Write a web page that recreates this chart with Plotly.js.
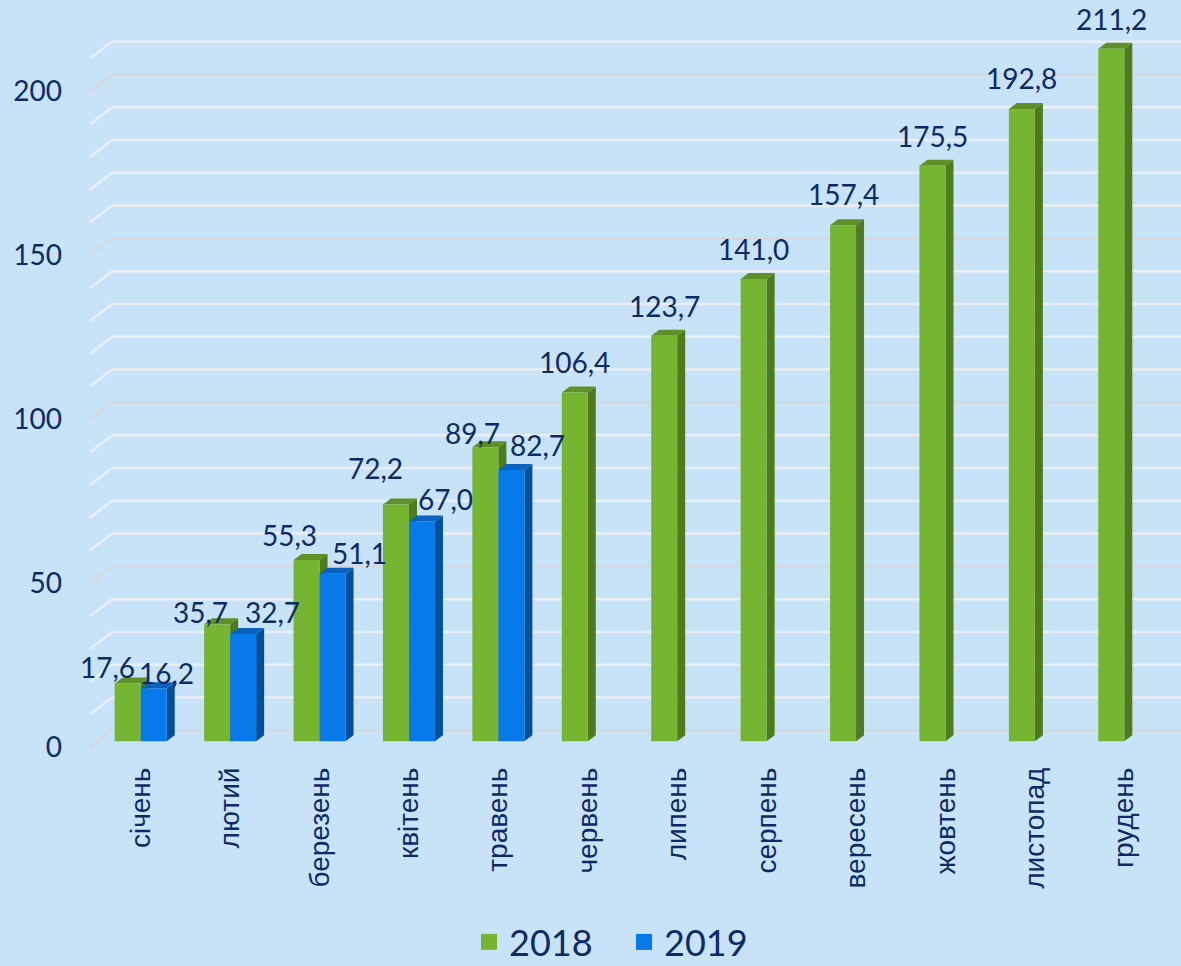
<!DOCTYPE html>
<html>
<head>
<meta charset="utf-8">
<script src="https://cdn.plot.ly/plotly-3.0.1.min.js"></script>
<style>
  html, body { margin: 0; padding: 0; background: #c8e2f8; }
</style>
</head>
<body>
<div id="chart" style="width:1181px;height:966px"></div>
<script>
'use strict';

// Data
const months = ['січень', 'лютий', 'березень', 'квітень', 'травень', 'червень',
  'липень', 'серпень', 'вересень', 'жовтень', 'листопад', 'грудень'];
const values2018 = [17.6, 35.7, 55.3, 72.2, 89.7, 106.4, 123.7, 141.0, 157.4, 175.5, 192.8, 211.2];
const values2019 = [16.2, 32.7, 51.1, 67.0, 82.7];
const yTickValues = [0, 50, 100, 150, 200];
const seriesNames = ['2018', '2019'];

// Label nudges in px (dx, dy up) - Excel placed them a bit unevenly
const labelShift2018 = [[-20, 17], [-17, 12], [-17, 25], [-20, 37], [-13, 14],
  [0, 30], [0, 30], [0, 30], [0, 31], [0, 30], [0, 31], [0, 30]];
const labelShift2019 = [[13, 15], [29, 22], [27, 21], [24, 23], [26, 25]];

const navy = '#0c2a66';
const green = {front: '#76b531', side: '#4e7a20', top: '#5f9027'};
const blue = {front: '#0779e9', side: '#034f9c', top: '#0a62bd'};

// Geometry
const W = 1181, H = 966;
const M = {l: 96, r: 12, t: 30, b: 205, autoexpand: false};
const yRange = [-6, 216.9];
const xRange = [-0.5, months.length - 0.5];
const plotW = W - M.l - M.r;
const plotH = H - M.t - M.b;
const pxX = plotW / (xRange[1] - xRange[0]);
const pxY = plotH / (yRange[1] - yRange[0]);
const barW = 26 / pxX;
const depthX = 8 / pxX;
const depthY = 6 / pxY;
const gridBack = 11 / pxY;
const gridFront = 6 / pxY;
const paperX = px => (px - M.l) / plotW;

const idx = months.map((m, i) => i);

const shapes = [];

// back wall grid with the little floor diagonals
for (let v = 0; v <= 210; v += 10) {
  const color = v % 50 === 0 ? '#d5d9dd' : '#e8eef3';
  shapes.push({
    type: 'line', xref: 'paper', yref: 'y', layer: 'below',
    x0: paperX(112), x1: paperX(W), y0: v + gridBack, y1: v + gridBack,
    line: {color, width: 2.5}
  }, {
    type: 'line', xref: 'paper', yref: 'y', layer: 'below',
    x0: paperX(90), x1: paperX(112), y0: v - gridFront, y1: v + gridBack,
    line: {color, width: 2.5}
  });
}

// fake 3d: side + top faces for every bar
function addFaces(values, offset, colors) {
  values.forEach((v, i) => {
    const xl = idx[i] + offset;
    const xr = xl + barW;
    shapes.push({
      type: 'path', xref: 'x', yref: 'y', layer: 'below',
      path: `M${xr},0 L${xr + depthX},${depthY} L${xr + depthX},${v + depthY} L${xr},${v} Z`,
      fillcolor: colors.side, line: {width: 0}
    }, {
      type: 'path', xref: 'x', yref: 'y', layer: 'below',
      path: `M${xl},${v} L${xr},${v} L${xr + depthX},${v + depthY} L${xl + depthX},${v + depthY} Z`,
      fillcolor: colors.top, line: {width: 0}
    });
  });
}
addFaces(values2018, -barW, green);
addFaces(values2019, 0, blue);

// value labels
const annotations = [];
function addLabels(values, offset, shifts) {
  values.forEach((v, i) => {
    annotations.push({
      x: idx[i] + offset + barW / 2, y: v, xref: 'x', yref: 'y',
      text: v.toFixed(1).replace('.', ','),
      showarrow: false, xanchor: 'center', yanchor: 'middle',
      xshift: shifts[i][0], yshift: shifts[i][1],
      font: {family: 'Lato', size: 28, color: navy}
    });
  });
}
addLabels(values2018, -barW, labelShift2018);
addLabels(values2019, 0, labelShift2019);

const data = [{
  type: 'bar',
  name: seriesNames[0],
  x: idx,
  y: values2018,
  width: barW,
  offset: -barW,
  marker: {color: green.front, line: {width: 0}},
  showlegend: false,
  hoverinfo: 'skip'
}, {
  type: 'bar',
  name: seriesNames[1],
  x: idx.slice(0, values2019.length),
  y: values2019,
  width: barW,
  offset: 0,
  marker: {color: blue.front, line: {width: 0}},
  showlegend: false,
  hoverinfo: 'skip'
}];

// legend entries with bigger square swatches than the bar icon gives
[green, blue].forEach((c, k) => {
  data.push({
    type: 'scatter', mode: 'markers', name: seriesNames[k],
    x: [null], y: [null],
    marker: {symbol: 'square', size: 24, color: c.front},
    hoverinfo: 'skip'
  });
});

const layout = {
  width: W,
  height: H,
  margin: M,
  paper_bgcolor: '#c8e2f8',
  plot_bgcolor: '#c8e2f8',
  barmode: 'overlay',
  shapes,
  annotations,
  showlegend: true,
  legend: {
    orientation: 'h',
    itemsizing: 'trace',
    entrywidth: 110,
    entrywidthmode: 'pixels',
    x: paperX(624), xanchor: 'center',
    y: -(942 - (H - M.b)) / plotH, yanchor: 'middle',
    font: {family: 'Lato', size: 36, color: navy},
    bgcolor: 'rgba(0,0,0,0)'
  },
  xaxis: {
    type: 'linear',
    range: xRange,
    tickvals: idx,
    ticktext: months,
    tickangle: -90,
    showgrid: false,
    zeroline: false,
    showline: false,
    ticks: '',
    tickfont: {family: 'Liberation Sans', size: 28, color: navy}
  },
  yaxis: {
    range: yRange,
    showgrid: false,
    zeroline: false,
    showline: false,
    showticklabels: false,
    ticks: ''
  },
  // tick labels line up with the front edge of the floor, a bit lower than the bars
  yaxis2: {
    overlaying: 'y',
    side: 'left',
    range: [yRange[0] + gridFront, yRange[1] + gridFront],
    tickvals: yTickValues,
    showgrid: false,
    zeroline: false,
    showline: false,
    ticks: '',
    ticklabelstandoff: 33,
    tickfont: {family: 'Lato', size: 28, color: navy}
  }
};

// invisible trace so yaxis2 gets drawn
data.push({
  type: 'scatter', x: [idx[0]], y: [yTickValues[0]], yaxis: 'y2',
  mode: 'markers', marker: {opacity: 0}, showlegend: false, hoverinfo: 'skip'
});

Plotly.newPlot('chart', data, layout, {displayModeBar: false, staticPlot: true});
</script>
</body>
</html>
